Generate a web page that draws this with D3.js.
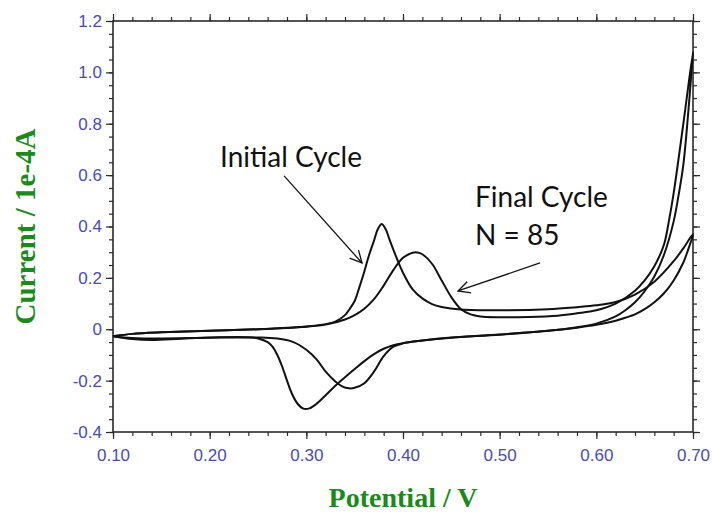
<!DOCTYPE html>
<html>
<head>
<meta charset="utf-8">
<script src="https://cdn.jsdelivr.net/npm/d3@7/dist/d3.min.js"></script>
<style>
  body { margin: 0; background: #fff; }
</style>
</head>
<body>
<div id="chart"></div>
<script>
const width = 712;
const height = 515;
const margin = {top: 21, right: 19, bottom: 83, left: 113};

// axis ticks
const xMajor = [0.10, 0.20, 0.30, 0.40, 0.50, 0.60, 0.70];
const yMajor = [-0.4, -0.2, 0, 0.2, 0.4, 0.6, 0.8, 1.0, 1.2];

// cyclic voltammograms: [potential V, current 1e-4 A]
const initialForward = [
  [0.10,-0.027],[0.12,-0.018],[0.15,-0.012],[0.20,-0.006],[0.25,0.0],[0.28,0.006],
  [0.30,0.011],[0.32,0.02],[0.33,0.03],[0.34,0.055],[0.345,0.08],[0.35,0.11],
  [0.355,0.165],[0.36,0.225],[0.365,0.29],[0.37,0.345],[0.374,0.39],[0.378,0.41],
  [0.382,0.39],[0.386,0.35],[0.39,0.31],[0.40,0.22],[0.41,0.155],[0.42,0.12],
  [0.43,0.098],[0.44,0.087],[0.46,0.077],[0.50,0.074],[0.55,0.078],[0.58,0.086],
  [0.60,0.093],[0.62,0.106],[0.64,0.135],[0.66,0.185],[0.68,0.265],[0.69,0.315],[0.70,0.37]
];
const initialReverse = [
  [0.695,0.31],[0.69,0.26],[0.68,0.19],[0.67,0.14],[0.66,0.105],[0.65,0.078],
  [0.64,0.058],[0.63,0.045],[0.62,0.033],[0.60,0.017],[0.58,0.006],[0.55,-0.006],
  [0.50,-0.021],[0.45,-0.033],[0.42,-0.044],[0.40,-0.054],[0.39,-0.062],[0.38,-0.076],
  [0.37,-0.097],[0.36,-0.124],[0.35,-0.155],[0.34,-0.187],[0.33,-0.22],[0.32,-0.257],
  [0.31,-0.292],[0.303,-0.308],[0.297,-0.309],[0.291,-0.29],[0.285,-0.25],[0.28,-0.2],
  [0.275,-0.145],[0.27,-0.1],[0.265,-0.068],[0.26,-0.05],[0.25,-0.036],[0.24,-0.031],
  [0.20,-0.032],[0.17,-0.037],[0.14,-0.042],[0.12,-0.038],[0.10,-0.027]
];
const finalForward = [
  [0.10,-0.027],[0.12,-0.018],[0.15,-0.012],[0.20,-0.006],[0.25,0.0],[0.28,0.005],
  [0.30,0.01],[0.32,0.018],[0.34,0.038],[0.35,0.055],[0.36,0.08],[0.37,0.117],
  [0.38,0.17],[0.39,0.23],[0.40,0.278],[0.41,0.298],[0.415,0.299],[0.42,0.292],
  [0.43,0.255],[0.44,0.19],[0.45,0.125],[0.46,0.078],[0.47,0.058],[0.48,0.05],
  [0.50,0.047],[0.53,0.048],[0.56,0.053],[0.58,0.062],[0.60,0.074],[0.62,0.1],
  [0.64,0.15],[0.65,0.19],[0.66,0.245],[0.67,0.33],[0.675,0.42],[0.68,0.53],
  [0.69,0.8],[0.70,1.08]
];
const finalReverse = [
  [0.699,1.03],[0.695,0.84],[0.69,0.64],[0.685,0.52],[0.68,0.42],[0.67,0.29],
  [0.66,0.205],[0.65,0.148],[0.64,0.105],[0.63,0.074],[0.62,0.05],[0.60,0.022],
  [0.58,0.008],[0.55,-0.006],[0.50,-0.02],[0.45,-0.032],[0.42,-0.044],[0.40,-0.055],
  [0.39,-0.068],[0.38,-0.105],[0.37,-0.165],[0.36,-0.21],[0.35,-0.228],[0.344,-0.23],
  [0.337,-0.222],[0.33,-0.203],[0.32,-0.165],[0.311,-0.119],[0.30,-0.08],
  [0.286,-0.049],[0.27,-0.036],[0.25,-0.032],[0.20,-0.033],[0.15,-0.036],[0.12,-0.034],[0.10,-0.027]
];

const cycles = [initialForward.concat(initialReverse), finalForward.concat(finalReverse)];

const svg = d3.select("#chart")
  .append("svg")
    .attr("width", width)
    .attr("height", height);

const x = d3.scaleLinear().domain([0.1, 0.7]).range([margin.left, width - margin.right]);
const y = d3.scaleLinear().domain([-0.4, 1.2]).range([height - margin.bottom, margin.top]);

const xMinor = d3.range(0.10, 0.7001, 0.02);
const yMinor = d3.range(-0.40, 1.2001, 0.05);

const axisColor = "#2a2a2a";
const labelColor = "#4a4ab4";

function styleAxis(g) {
  g.select(".domain").remove();
  g.selectAll("line").attr("stroke", axisColor).attr("stroke-width", 1.2);
}

// minor ticks on all four sides
svg.append("g").attr("transform", `translate(0,${y(-0.4)})`)
  .call(d3.axisBottom(x).tickValues(xMinor).tickSize(4).tickFormat("")).call(styleAxis);
svg.append("g").attr("transform", `translate(0,${y(1.2)})`)
  .call(d3.axisTop(x).tickValues(xMinor).tickSize(4).tickFormat("")).call(styleAxis);
svg.append("g").attr("transform", `translate(${x(0.1)},0)`)
  .call(d3.axisLeft(y).tickValues(yMinor).tickSize(4).tickFormat("")).call(styleAxis);
svg.append("g").attr("transform", `translate(${x(0.7)},0)`)
  .call(d3.axisRight(y).tickValues(yMinor).tickSize(4).tickFormat("")).call(styleAxis);

// major ticks + labels
svg.append("g").attr("transform", `translate(0,${y(-0.4)})`)
  .call(d3.axisBottom(x).tickValues(xMajor).tickSize(7).tickPadding(10).tickFormat(d => d.toFixed(2)))
  .call(styleAxis);
svg.append("g").attr("transform", `translate(0,${y(1.2)})`)
  .call(d3.axisTop(x).tickValues(xMajor).tickSize(7).tickFormat("")).call(styleAxis);
svg.append("g").attr("transform", `translate(${x(0.1)},0)`)
  .call(d3.axisLeft(y).tickValues(yMajor).tickSize(7).tickPadding(4)
    .tickFormat(d => Math.abs(d) < 1e-9 ? "0" : d.toFixed(1)))
  .call(styleAxis);
svg.append("g").attr("transform", `translate(${x(0.7)},0)`)
  .call(d3.axisRight(y).tickValues(yMajor).tickSize(7).tickFormat("")).call(styleAxis);

svg.selectAll(".tick text")
  .attr("fill", labelColor)
  .attr("font-family", "'Liberation Sans', Arial, sans-serif")
  .attr("font-size", 17);

// frame
svg.append("rect")
  .attr("x", x(0.1)).attr("y", y(1.2))
  .attr("width", x(0.7) - x(0.1)).attr("height", y(-0.4) - y(1.2))
  .attr("fill", "none")
  .attr("stroke", axisColor)
  .attr("stroke-width", 1.6);

// curves
const line = d3.line()
  .x(d => x(d[0]))
  .y(d => y(d[1]))
  .curve(d3.curveCatmullRom.alpha(0.5));

svg.append("g").selectAll("path")
  .data(cycles)
  .enter()
  .append("path")
    .attr("d", line)
    .attr("fill", "none")
    .attr("stroke", "#111")
    .attr("stroke-width", 2)
    .attr("stroke-linejoin", "round");

// axis titles
svg.append("text")
  .attr("x", (x(0.1) + x(0.7)) / 2)
  .attr("y", 507)
  .attr("text-anchor", "middle")
  .attr("font-family", "'Liberation Serif', 'Times New Roman', serif")
  .attr("font-weight", "bold")
  .attr("font-size", 28)
  .attr("fill", "#1a8a1a")
  .text("Potential / V");

svg.append("text")
  .attr("transform", `translate(35,${(y(1.2) + y(-0.4)) / 2}) rotate(-90)`)
  .attr("text-anchor", "middle")
  .attr("font-family", "'Liberation Serif', 'Times New Roman', serif")
  .attr("font-weight", "bold")
  .attr("font-size", 29)
  .attr("fill", "#1a8a1a")
  .text("Current / 1e-4A");

// annotations
svg.append("defs").append("marker")
  .attr("id", "open-arrow")
  .attr("viewBox", "0 -7 13 14")
  .attr("refX", 12)
  .attr("refY", 0)
  .attr("markerWidth", 13)
  .attr("markerHeight", 14)
  .attr("markerUnits", "userSpaceOnUse")
  .attr("orient", "auto")
  .append("path")
    .attr("d", "M0,-6L12,0L0,6")
    .attr("fill", "none")
    .attr("stroke", "#111")
    .attr("stroke-width", 1.3);

const arrows = [
  {from: [0.277, 0.597], to: [0.3576, 0.258]},
  {from: [0.5417, 0.258], to: [0.4569, 0.149]}
];
svg.append("g").selectAll("line")
  .data(arrows)
  .enter()
  .append("line")
    .attr("x1", d => x(d.from[0])).attr("y1", d => y(d.from[1]))
    .attr("x2", d => x(d.to[0])).attr("y2", d => y(d.to[1]))
    .attr("stroke", "#111")
    .attr("stroke-width", 1.3)
    .attr("marker-end", "url(#open-arrow)");

const notes = [
  {text: "Initial Cycle", at: [0.2107, 0.632]},
  {text: "Final Cycle", at: [0.4745, 0.476]},
  {text: "N = 85", at: [0.4745, 0.328]}
];
svg.append("g").selectAll("text")
  .data(notes)
  .enter()
  .append("text")
    .attr("x", d => x(d.at[0]))
    .attr("y", d => y(d.at[1]))
    .attr("font-family", "Lato, 'Open Sans', sans-serif")
    .attr("font-size", 28)
    .attr("fill", "#111")
    .text(d => d.text);
</script>
</body>
</html>
